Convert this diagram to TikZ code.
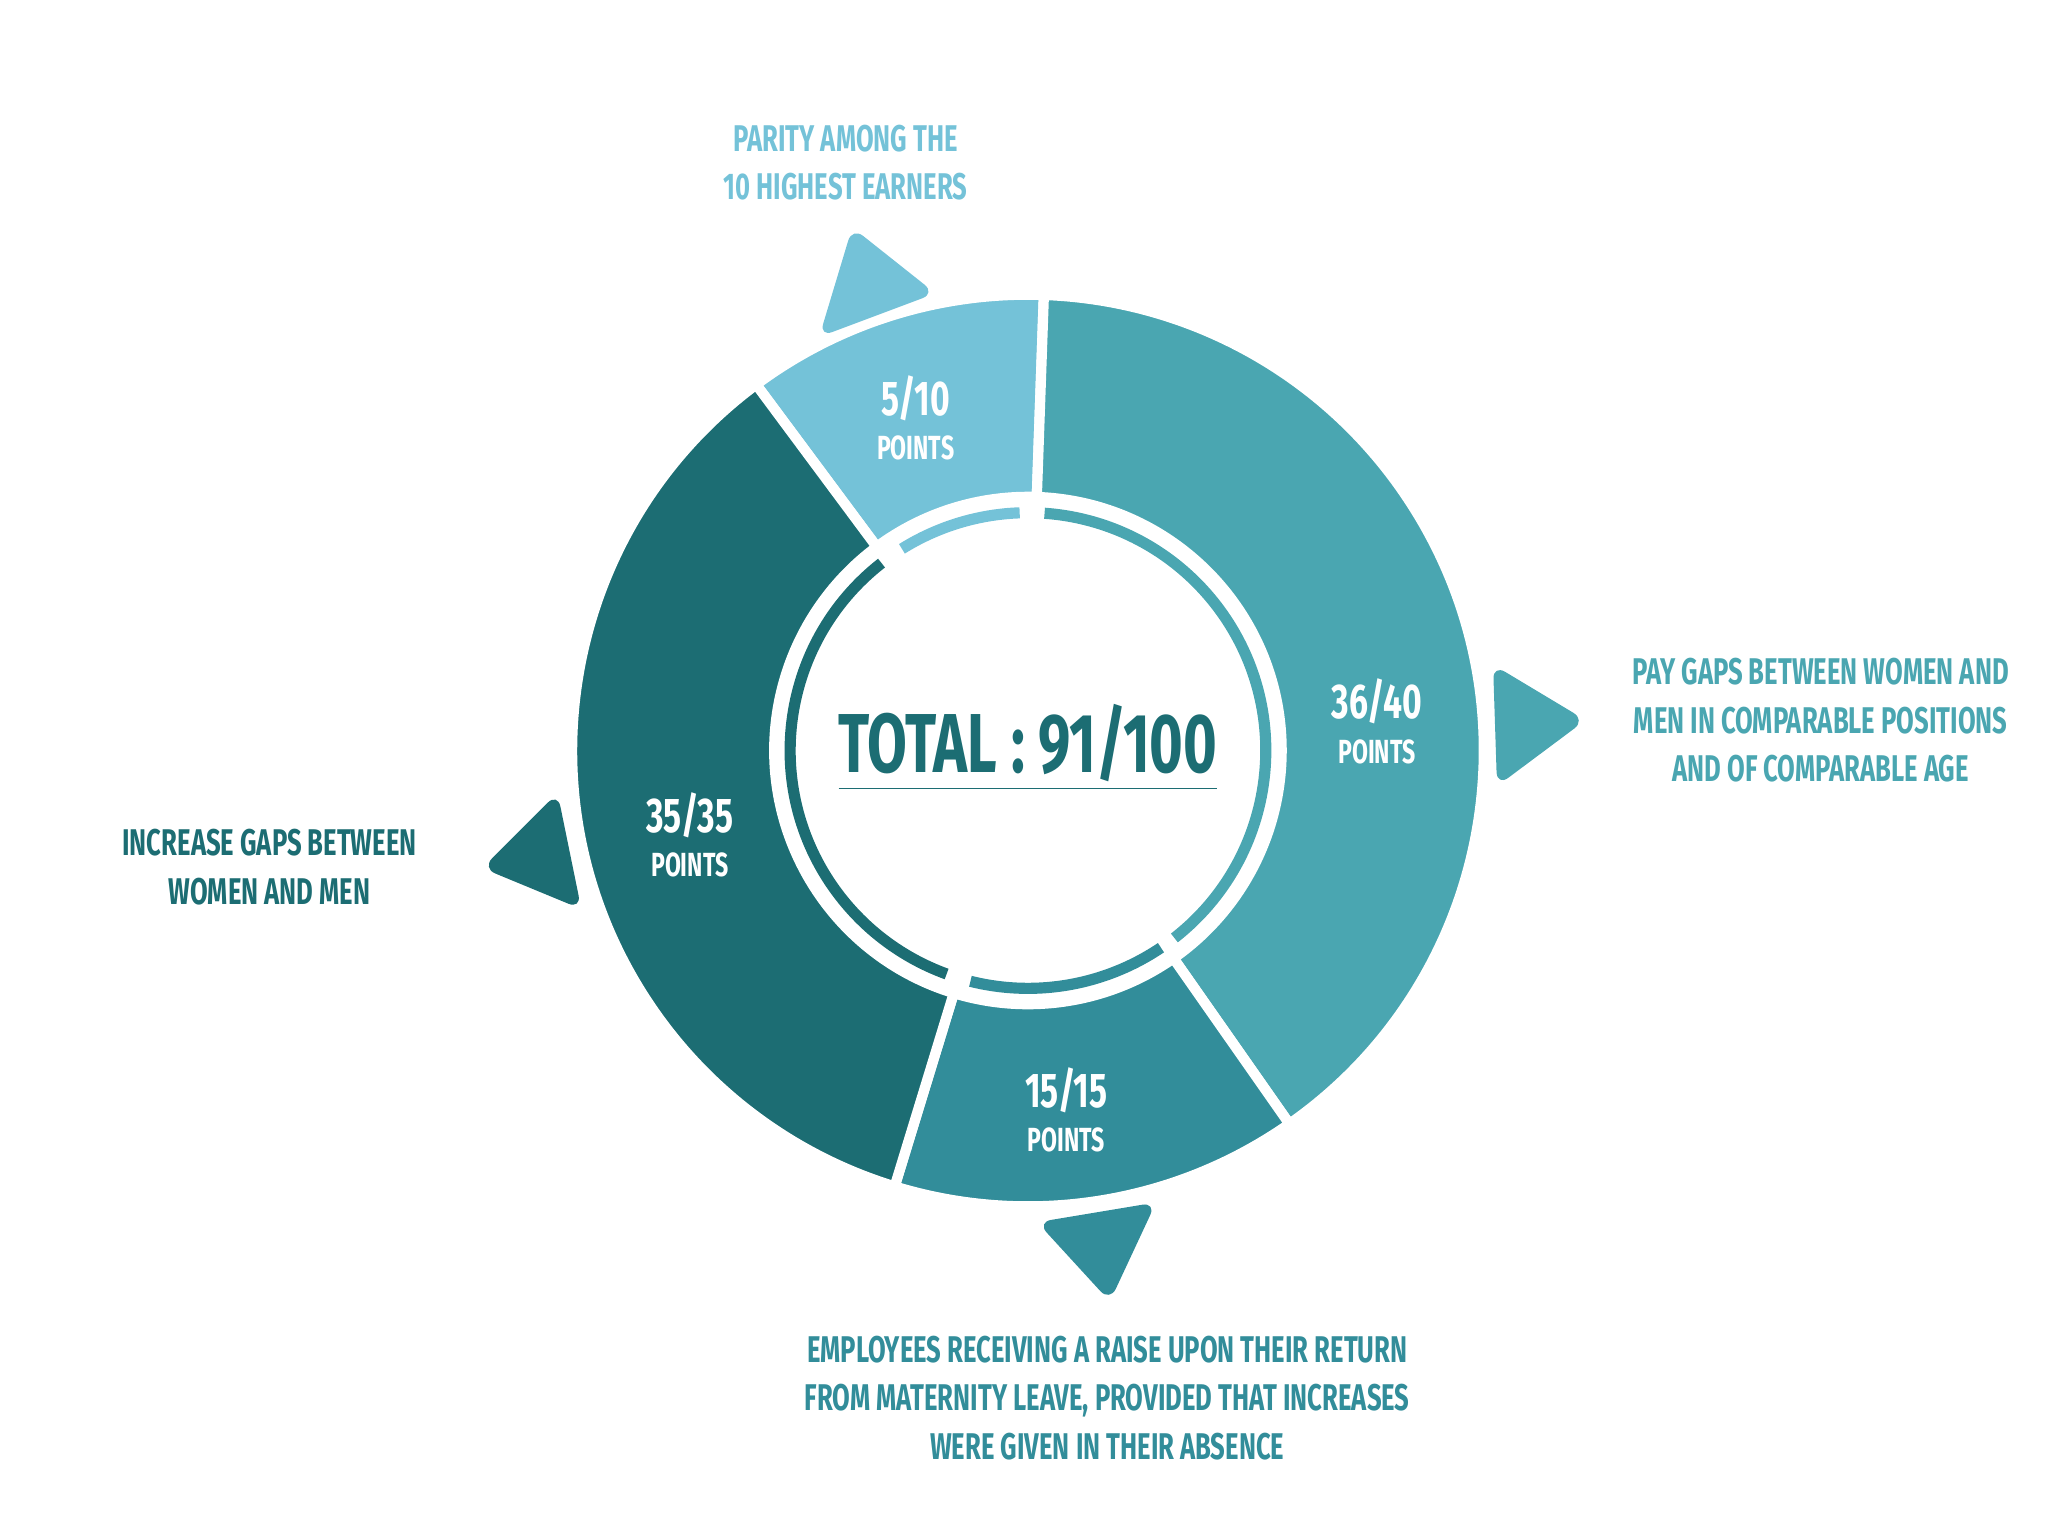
\documentclass[tikz,border=0pt]{standalone}
\usetikzlibrary{calc}
\usepackage{fontspec}
\setmainfont{Fira Sans}[FakeStretch=0.69]
\definecolor{cA}{HTML}{74C2D8}
\definecolor{cB}{HTML}{4AA6B1}
\definecolor{cC}{HTML}{328D9A}
\definecolor{cD}{HTML}{1C6D73}
\begin{document}
\begin{tikzpicture}[x=0.01cm,y=-0.01cm,
  seg/.style={draw=white,line width=2.2pt,line join=round},
  tri/.style={rounded corners=3pt},
  lab/.style={font=\bfseries\fontsize{8}{10.5}\selectfont,align=center},
  num/.style={font=\bfseries\fontsize{10.5}{10.5}\selectfont,text=white,align=center}]
\useasboundingbox (0,0) rectangle (1550,1156);
\coordinate (c) at (778,568);
\def\seg#1#2#3{\fill[#3,seg] ($(c)+(-#1:345)$) arc[start angle=-#1,end angle=-#2,radius=345] -- ($(c)+(-#2:192)$) arc[start angle=-#2,end angle=-#1,radius=192] -- cycle;}
\seg{88}{126.6}{cA}
\seg{-55}{88}{cB}
\seg{-107}{-55}{cC}
\seg{126.6}{253}{cD}
\def\rng#1#2#3{\draw[#3,line width=2.4pt] ($(c)+(-#1:180)$) arc[start angle=-#1,end angle=-#2,radius=180];}
\rng{92}{122}{cA}
\rng{-52}{86}{cB}
\rng{-104}{-56}{cC}
\rng{128}{250}{cD}
\fill[white] (c) circle (168);
\fill[cA,tri] (620,255) -- (645,172) -- (708,222) -- cycle;
\fill[cB,tri] (1130,503) -- (1200,545) -- (1133,595) -- cycle;
\fill[cC,tri] (785,925) -- (875,910) -- (840,985) -- cycle;
\fill[cD,tri] (365,657) -- (422,600) -- (440,688) -- cycle;
\node[font=\bfseries\fontsize{18}{18}\selectfont,text=cD] (tot) at (778,566) {\underline{TOTAL : 91/100}};
\node[num] (n1) at (693,316) {5/10\\[-1pt]{\fontsize{7.2}{7.2}\selectfont POINTS}};
\node[num] (n2) at (1042,546) {36/40\\[-1pt]{\fontsize{7.2}{7.2}\selectfont POINTS}};
\node[num] (n3) at (807,840) {15/15\\[-1pt]{\fontsize{7.2}{7.2}\selectfont POINTS}};
\node[num] (n4) at (522,632) {35/35\\[-1pt]{\fontsize{7.2}{7.2}\selectfont POINTS}};
\node[lab,text=cA] (l1) at (640,123) {PARITY AMONG THE\\10 HIGHEST EARNERS};
\node[lab,text=cB] (l2) at (1378,545) {PAY GAPS BETWEEN WOMEN AND\\MEN IN COMPARABLE POSITIONS\\AND OF COMPARABLE AGE};
\node[lab,text=cC] (l3) at (838,1058) {EMPLOYEES RECEIVING A RAISE UPON THEIR RETURN\\FROM MATERNITY LEAVE, PROVIDED THAT INCREASES\\WERE GIVEN IN THEIR ABSENCE};
\node[lab,text=cD] (l4) at (204,656) {INCREASE GAPS BETWEEN\\WOMEN AND MEN};
\end{tikzpicture}
\end{document}
